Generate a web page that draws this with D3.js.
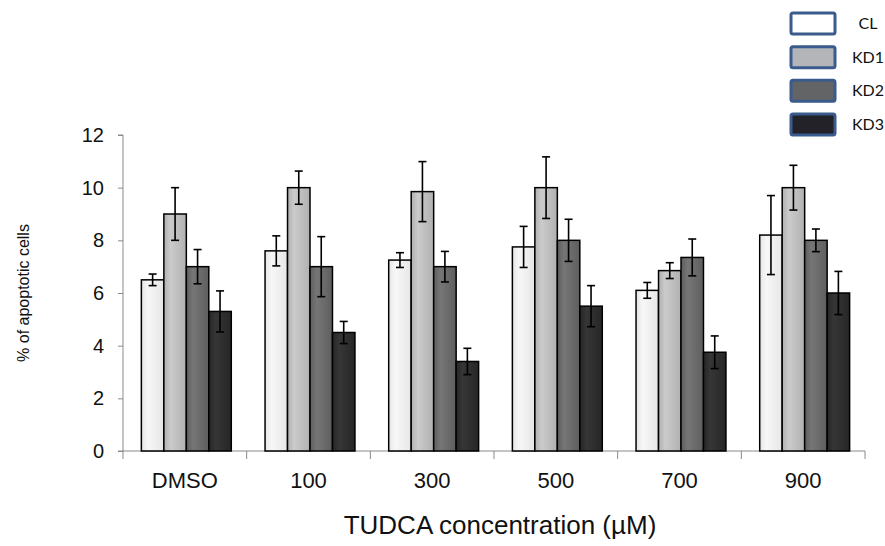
<!DOCTYPE html>
<html>
<head>
<meta charset="utf-8">
<script src="https://cdn.jsdelivr.net/npm/d3@7"></script>
<style>
  html, body { margin: 0; padding: 0; background: #fff; }
  svg { display: block; }
</style>
</head>
<body>
<svg id="chart" width="885" height="546"></svg>
<script>
// Apoptosis after TUDCA treatment, per cell line
const categories = ["DMSO", "100", "300", "500", "700", "900"];
const seriesNames = ["CL", "KD1", "KD2", "KD3"];

const clValues  = [6.5, 7.6, 7.25, 7.75, 6.1, 8.2];
const kd1Values = [9.0, 10.0, 9.85, 10.0, 6.85, 10.0];
const kd2Values = [7.0, 7.0, 7.0, 8.0, 7.35, 8.0];
const kd3Values = [5.3, 4.5, 3.4, 5.5, 3.75, 6.0];

const clErrors  = [0.22, 0.57, 0.28, 0.78, 0.3, 1.5];
const kd1Errors = [1.0, 0.63, 1.14, 1.17, 0.3, 0.85];
const kd2Errors = [0.65, 1.14, 0.58, 0.8, 0.7, 0.43];
const kd3Errors = [0.78, 0.42, 0.5, 0.78, 0.62, 0.82];

const yTicks = [0, 2, 4, 6, 8, 10, 12];

const seriesValues = [clValues, kd1Values, kd2Values, kd3Values];
const seriesErrors = [clErrors, kd1Errors, kd2Errors, kd3Errors];

// bar fills (light edge, dark edge) and legend fills
const barShades = [["#f7f7f7", "#e6e6e6"], ["#cbcbcb", "#b0b0b0"], ["#767676", "#5e5e5e"], ["#363636", "#262626"]];
const legendFills = ["#ffffff", "#b3b5b8", "#636466", "#222228"];

const svg = d3.select("#chart");
const plotLeft = 123, plotRight = 865, plotTop = 135, plotBottom = 451;

const x0 = d3.scaleBand().domain(categories).range([plotLeft, plotRight])
  .paddingInner(0.273).paddingOuter(0.1365);
const x1 = d3.scaleBand().domain(seriesNames).range([0, x0.bandwidth()]);
const y = d3.scaleLinear().domain([0, 12]).range([plotBottom, plotTop]);

// gradients
const defs = svg.append("defs");
barShades.forEach((s, i) => {
  const g = defs.append("linearGradient").attr("id", "grad" + i)
    .attr("x1", "0").attr("x2", "1").attr("y1", "0").attr("y2", "0");
  g.append("stop").attr("offset", "0").attr("stop-color", s[1]);
  g.append("stop").attr("offset", "0.3").attr("stop-color", s[0]);
  g.append("stop").attr("offset", "1").attr("stop-color", s[1]);
});

// axes
const axisColor = "#8a8a8a";
const yAxis = svg.append("g").attr("transform", `translate(${plotLeft},0)`)
  .call(d3.axisLeft(y).tickValues(yTicks).tickSize(5).tickPadding(14).tickFormat(d3.format("d")));
yAxis.selectAll("path, line").attr("stroke", axisColor);
yAxis.select(".domain").attr("d", `M-5,${plotTop}H0V${plotBottom}H-5`);
yAxis.selectAll("text").attr("font-family", "Liberation Sans, Arial, sans-serif")
  .attr("font-size", 20).attr("fill", "#111");

// x axis with ticks at category boundaries
const xAxisG = svg.append("g").attr("transform", `translate(0,${plotBottom})`);
xAxisG.append("line").attr("x1", plotLeft).attr("x2", plotRight).attr("y1", 0).attr("y2", 0)
  .attr("stroke", axisColor);
const step = x0.step();
const boundaries = d3.range(categories.length + 1).map(i => x0(categories[0]) - step * x0.paddingOuter() + i * step);
xAxisG.selectAll("line.tick").data(boundaries).join("line").attr("class", "tick")
  .attr("x1", d => d).attr("x2", d => d).attr("y1", 0).attr("y2", 8).attr("stroke", axisColor);
xAxisG.selectAll("text").data(categories).join("text")
  .attr("x", d => x0(d) + x0.bandwidth() / 2)
  .attr("y", 37)
  .attr("text-anchor", "middle")
  .attr("font-family", "Liberation Sans, Arial, sans-serif")
  .attr("font-size", 22).attr("fill", "#111")
  .text(d => d);

// bars
const groups = svg.append("g").selectAll("g").data(categories).join("g")
  .attr("transform", d => `translate(${x0(d) + 1.5},0)`);

groups.each(function(cat, ci) {
  const g = d3.select(this);
  seriesNames.forEach((s, si) => {
    const v = seriesValues[si][ci];
    const e = seriesErrors[si][ci];
    const bx = x1(s);
    const bw = x1.bandwidth();
    g.append("rect")
      .attr("x", bx).attr("y", y(v))
      .attr("width", bw).attr("height", y(0) - y(v))
      .attr("fill", `url(#grad${si})`)
      .attr("stroke", "#000").attr("stroke-width", 1.5);
    const cx = bx + bw / 2;
    const eb = g.append("g").attr("stroke", "#000").attr("stroke-width", 1.6);
    eb.append("line").attr("x1", cx).attr("x2", cx).attr("y1", y(v + e)).attr("y2", y(v - e));
    eb.append("line").attr("x1", cx - 4).attr("x2", cx + 4).attr("y1", y(v + e)).attr("y2", y(v + e));
    eb.append("line").attr("x1", cx - 4).attr("x2", cx + 4).attr("y1", y(v - e)).attr("y2", y(v - e));
  });
});

// axis titles
svg.append("text")
  .attr("transform", `translate(29,${(plotTop + plotBottom) / 2}) rotate(-90)`)
  .attr("text-anchor", "middle")
  .attr("font-family", "Liberation Sans, Arial, sans-serif")
  .attr("font-size", 16).attr("fill", "#111")
  .text("% of apoptotic cells");

svg.append("text")
  .attr("x", 500).attr("y", 534)
  .attr("text-anchor", "middle")
  .attr("font-family", "Liberation Sans, Arial, sans-serif")
  .attr("font-size", 26).attr("fill", "#111")
  .text("TUDCA concentration (µM)");

// legend
const legend = svg.append("g");
const legendY = d3.scalePoint().domain(seriesNames).range([23.5, 124.5]);
seriesNames.forEach((s, i) => {
  legend.append("rect")
    .attr("x", 791).attr("y", legendY(s) - 10.5)
    .attr("width", 44).attr("height", 21).attr("rx", 2)
    .attr("fill", legendFills[i])
    .attr("stroke", "#3b5b8c").attr("stroke-width", 3);
  legend.append("text")
    .attr("x", 868).attr("y", legendY(s) + 5.5)
    .attr("text-anchor", "middle")
    .attr("font-family", "Lato, Carlito, sans-serif")
    .attr("font-size", 16).attr("fill", "#111")
    .text(s);
});
</script>
</body>
</html>
